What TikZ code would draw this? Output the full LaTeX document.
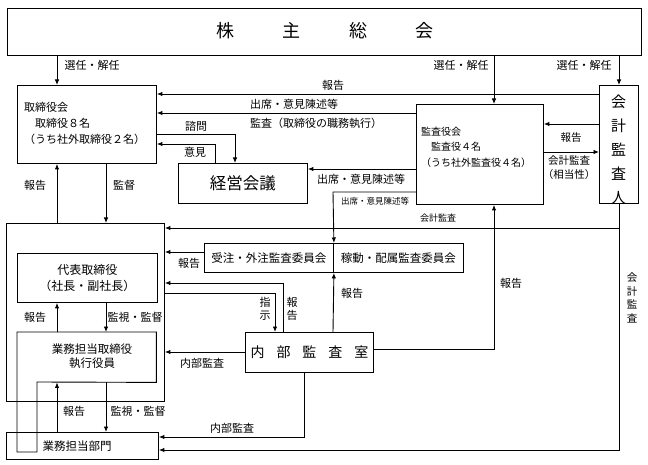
\documentclass[tikz,border=0pt]{standalone}
\usepackage{fontspec}
\setmainfont{Noto Sans CJK JP}
\usetikzlibrary{arrows.meta}
\begin{document}
\begin{tikzpicture}[x=1pt,y=-1pt,
  box/.style={draw, line width=0.9pt, inner sep=0pt, anchor=north west},
  arr/.style={line width=0.9pt, -{Latex[length=5.5pt,width=4.5pt]}},
  ln/.style={line width=0.9pt},
  lbl/.style={font=\fontsize{11}{13.5}\selectfont, inner sep=0pt, align=center},
  sml/.style={font=\fontsize{8.5}{10}\selectfont, inner sep=0pt},
]
\useasboundingbox (0,0) rectangle (648,465);
% boxes
\node[box, minimum width=634pt, minimum height=47pt] (kabu) at (7,8) {};
\node[font=\fontsize{18}{20}\selectfont] at (325,31) {株\hspace{2.7em}主\hspace{2.7em}総\hspace{2.7em}会};
\node[box, minimum width=139pt, minimum height=78pt] (tori) at (17,85) {};
\node[lbl, anchor=west, align=left, font=\fontsize{11}{16}\selectfont] at (24,123) {取締役会\\　取締役８名\\（うち社外取締役２名）};
\node[box, minimum width=129pt, minimum height=40pt, font=\fontsize{16.5}{18}\selectfont] (keiei) at (178,163) {経営会議};
\node[box, minimum width=127pt, minimum height=100pt] (kansa) at (416,104) {};
\node[lbl, anchor=west, align=left, font=\fontsize{10}{15.5}\selectfont] at (421,147) {監査役会\\　監査役４名\\（うち社外監査役４名）};
\node[box, minimum width=39pt, minimum height=118pt] (kaikei) at (599,85) {};
\node[align=center, inner sep=0pt, font=\fontsize{15}{24}\selectfont] at (618.5,150) {会\\計\\監\\査\\人};
\node[box, minimum width=158pt, minimum height=178pt] (outer) at (6,223) {};
\node[box, minimum width=140pt, minimum height=49pt, align=center, font=\fontsize{12}{16}\selectfont] (daihyo) at (17,253) {代表取締役\\（社長・副社長）};
\node[anchor=north west, minimum width=139pt, minimum height=50pt, inner sep=0pt] (gyomu) at (17,332) {};
\draw[ln] (gyomu.north west) -- (gyomu.north east) -- (gyomu.south east) -- (37,382) -- (37,452) -- (17,452) -- cycle;
\node[lbl, font=\fontsize{11.5}{14.5}\selectfont] at (92,356) {業務担当取締役\\執行役員};
\node[box, minimum width=152pt, minimum height=27pt] (bumon) at (6,432) {};
\node[lbl, font=\fontsize{11.5}{14}\selectfont] at (77,446) {業務担当部門};
\node[box, minimum width=129pt, minimum height=29pt, font=\fontsize{11.5}{14}\selectfont] (iin1) at (204,243) {受注・外注監査委員会};
\node[box, minimum width=130pt, minimum height=29pt, font=\fontsize{11.5}{14}\selectfont] (iin2) at (333,243) {稼動・配属監査委員会};
\node[box, minimum width=128pt, minimum height=40pt, font=\fontsize{14}{16}\selectfont] (naibu) at (245,332) {内\hspace{0.85em}部\hspace{0.85em}監\hspace{0.85em}査\hspace{0.85em}室};
% connectors from kabu
\draw[arr] (kabu.south -| 57,0) -- (tori.north -| 57,0);
\node[lbl] at (92,65) {選任・解任};
\draw[arr] (kabu.south -| 494,0) -- (kansa.north -| 494,0);
\node[lbl] at (461,65) {選任・解任};
\draw[arr] (kabu.south -| 619,0) -- (kaikei.north -| 619,0);
\node[lbl] at (584,65) {選任・解任};
% top horizontal
\draw[arr] (kaikei.west |- 0,94) -- (tori.east |- 0,94);
\node[lbl] at (333,85) {報告};
\draw[arr] (kansa.west |- 0,113) -- (tori.east |- 0,113);
\node[lbl, anchor=west] at (250,104) {出席・意見陳述等};
\node[lbl, anchor=west] at (250,123) {監査（取締役の職務執行）};
\draw[arr] (tori.east |- 0,134) -- (235,134) -- (keiei.north -| 235,0);
\node[lbl] at (196,126) {諮問};
\draw[arr] (keiei.north -| 215,0) -- (215,144) -- (tori.east |- 0,144);
\node[lbl] at (195,152) {意見};
\draw[arr] (kansa.west |- 0,169) -- (keiei.east |- 0,169);
\node[lbl] at (361,179) {出席・意見陳述等};
\draw[arr] (kansa.west |- 0,192) -- (333,192) -- (iin1.north east);
\node[sml] at (375,201) {出席・意見陳述等};
% kaikei <-> kansa
\draw[arr] (kaikei.west |- 0,124) -- (kansa.east |- 0,124);
\node[lbl, font=\fontsize{10.5}{13}\selectfont] at (571,138) {報告};
\draw[arr] (kansa.east |- 0,152) -- (kaikei.west |- 0,152);
\node[lbl, font=\fontsize{10.5}{14}\selectfont] at (569,168) {会計監査\\（相当性）};
% kaikei audit
\draw[arr] (kaikei.south -| 619,0) -- (619,450) -- (bumon.east |- 0,450);
\draw[arr] (619,228) -- (outer.east |- 0,228);
\node[sml, font=\fontsize{9}{10}\selectfont] at (438,218) {会計監査};
\node[lbl, font=\fontsize{10.5}{13.5}\selectfont] at (632,298) {会\\計\\監\\査};
% tori <-> outer
\draw[arr] (outer.north -| 57,0) -- (tori.south -| 57,0);
\node[lbl] at (35,185) {報告};
\draw[arr] (tori.south -| 106,0) -- (outer.north -| 106,0);
\node[lbl] at (124,185) {監督};
% committees
\draw[arr] (iin1.west |- 0,252) -- (outer.east |- 0,252);
\node[lbl] at (189,263) {報告};
\draw[arr] (naibu.north -| 333,0) -- (iin1.south east);
\node[lbl] at (352,293) {報告};
% shiji / hokoku
\draw[arr] (outer.east |- 0,293) -- (275,293) -- (naibu.north -| 275,0);
\node[lbl] at (265,309) {指\\示};
\draw[arr] (naibu.north -| 283,0) -- (283,283) -- (outer.east |- 0,283);
\node[lbl] at (292,309) {報\\告};
% naibu
\draw[arr] (naibu.east |- 0,349) -- (494,349) -- (kansa.south -| 494,0);
\node[lbl] at (511,283) {報告};
\draw[arr] (naibu.west |- 0,352) -- (outer.east |- 0,352);
\node[lbl] at (202,363) {内部監査};
\draw[arr] (naibu.south -| 304,0) -- (304,437) -- (bumon.east |- 0,437);
\node[lbl] at (232,428) {内部監査};
% daihyo <-> gyomu
\draw[arr] (daihyo.south -| 106,0) -- (gyomu.north -| 106,0);
\node[lbl] at (135,317) {監視・監督};
\draw[arr] (gyomu.north -| 57,0) -- (daihyo.south -| 57,0);
\node[lbl] at (35,317) {報告};
% gyomu <-> bumon
\draw[arr] (bumon.north -| 57,0) -- (gyomu.south -| 57,0);
\node[lbl] at (74,411) {報告};
\draw[arr] (gyomu.south -| 106,0) -- (bumon.north -| 106,0);
\node[lbl] at (138,411) {監視・監督};
\end{tikzpicture}
\end{document}
